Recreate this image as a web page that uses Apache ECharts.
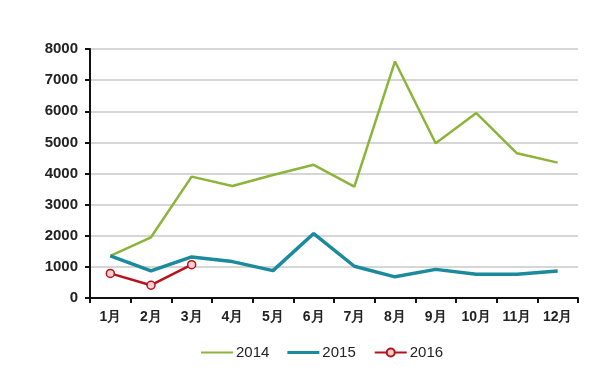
<!DOCTYPE html>
<html>
<head>
<meta charset="utf-8">
<script src="https://cdn.jsdelivr.net/npm/echarts@6/dist/echarts.min.js"></script>
<style>html,body{margin:0;padding:0;background:#fff;}#c{width:600px;height:373px;}</style>
</head>
<body>
<div id="c"></div>
<script>
const categories = ['1月','2月','3月','4月','5月','6月','7月','8月','9月','10月','11月','12月'];
const yTicks = [0,1000,2000,3000,4000,5000,6000,7000,8000];
const s2014 = [1350,1950,3900,3600,3950,4280,3580,7600,4970,5940,4650,4350];
const s2015 = [1350,870,1320,1170,880,2070,1020,680,920,760,760,870];
const s2016 = [790,410,1070];

const chart = echarts.init(document.getElementById('c'));
chart.setOption({
  animation: false,
  backgroundColor: '#fff',
  grid: {left: 90, right: 22, top: 49, bottom: 75},
  legend: {
    top: 340, left: 196,
    itemWidth: 32, itemHeight: 10, itemGap: 18,
    textStyle: {fontFamily: 'Arial, Liberation Sans', fontSize: 15, color: '#222', padding: [0,0,0,-2]},
    data: [
      {name: '2014', icon: 'path://M0,4L32,4L32,6L0,6Z'},
      {name: '2015', icon: 'path://M0,3.5L32,3.5L32,6.5L0,6.5Z'},
      {name: '2016'}
    ]
  },
  xAxis: {
    type: 'category', data: categories, boundaryGap: true,
    axisLine: {lineStyle: {color: '#111', width: 2}},
    axisTick: {show: true, inside: false, length: 5, lineStyle: {color: '#111', width: 2}},
    axisLabel: {fontFamily: 'Arial, Liberation Sans', fontSize: 14, color: '#222', fontWeight: 'bold', margin: 12}
  },
  yAxis: {
    type: 'value', min: 0, max: 8000, interval: 1000,
    axisLine: {show: true, lineStyle: {color: '#111', width: 2}},
    axisTick: {show: true, length: 5, lineStyle: {color: '#111', width: 2}},
    axisLabel: {fontFamily: 'Arial, Liberation Sans', fontSize: 15, color: '#222', fontWeight: 'bold', margin: 12,
      formatter: v => yTicks.includes(v) ? String(v) : ''},
    splitLine: {lineStyle: {color: '#c8c8c8', width: 1.5}}
  },
  series: [
    {name: '2014', type: 'line', data: s2014, symbol: 'none', lineStyle: {color: '#8cb43a', width: 2.5}, itemStyle: {color: '#8cb43a'}},
    {name: '2015', type: 'line', data: s2015, symbol: 'none', lineStyle: {color: '#1a8a9c', width: 3.5}, itemStyle: {color: '#1a8a9c'}},
    {name: '2016', type: 'line', data: s2016, symbol: 'circle', symbolSize: 8, showSymbol: true,
      lineStyle: {color: '#b8121b', width: 2.5},
      itemStyle: {color: '#f4d0d0', borderColor: '#b8121b', borderWidth: 1.5}}
  ]
});
</script>
</body>
</html>
